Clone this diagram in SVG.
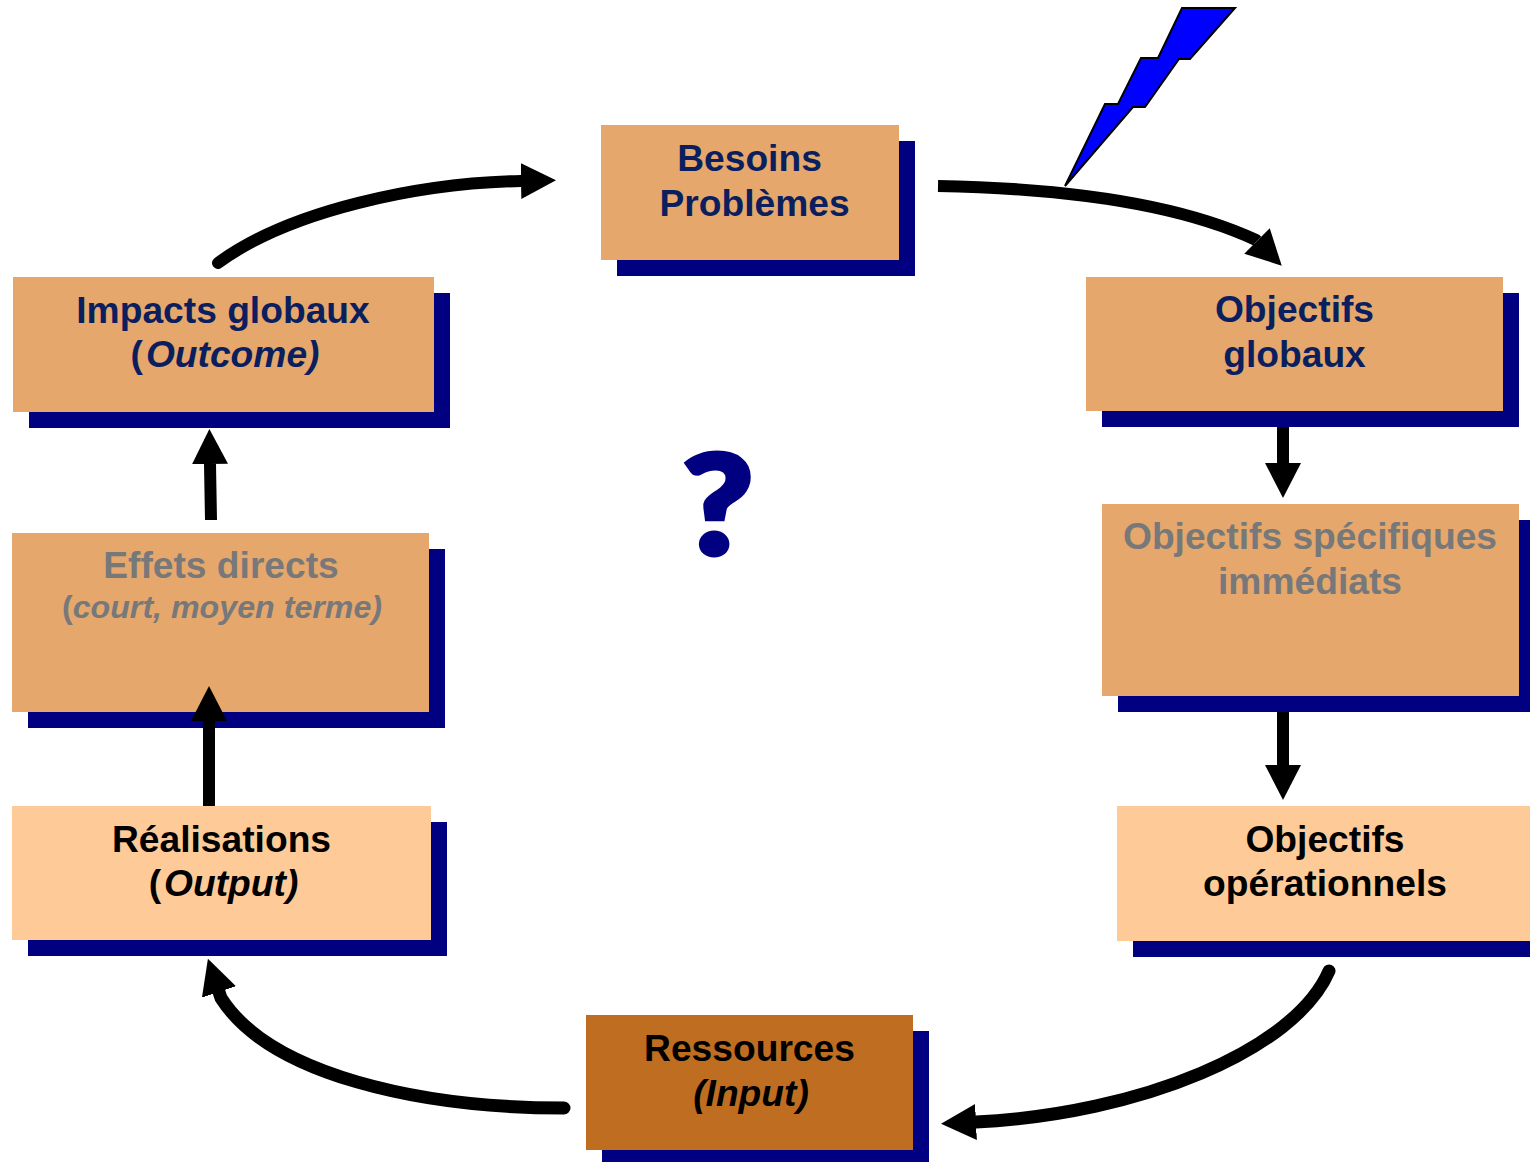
<svg xmlns="http://www.w3.org/2000/svg" width="1530" height="1162" viewBox="0 0 1530 1162">
<style>
.s{fill:#000080}
.a{fill:#e5a76b}
.l{fill:#fecb98}
.d{fill:#bf6e21}
text{font-family:"Liberation Sans",Arial,sans-serif;font-weight:700;font-size:37.2px;text-anchor:middle}
.n{fill:#0b1f5e}
.g{fill:#77787a}
.b{fill:#000}
.i{font-style:italic}
.c{fill:none;stroke:#000;stroke-width:12}
.k{stroke-width:13}
.r{stroke-linecap:round}
</style>
<defs>
<marker id="h" markerUnits="userSpaceOnUse" markerWidth="36" markerHeight="36" refX="0" refY="18" orient="auto"><path d="M0 0L35 18L0 36z" fill="#000"/></marker>
</defs>
<rect width="1530" height="1162" fill="#fff"/>
<g id="besoins"><rect class="s" x="617" y="141" width="298" height="135"/><rect class="a" x="601" y="125" width="298" height="135"/><text class="n" x="749.500" y="171">Besoins</text><text class="n" x="754.500" y="216">Problèmes</text></g>
<g id="objectifs-globaux"><rect class="s" x="1102" y="293" width="417" height="134"/><rect class="a" x="1086" y="277" width="417" height="134"/><text class="n" x="1294.500" y="322">Objectifs</text><text class="n" x="1294.500" y="367">globaux</text></g>
<g id="objectifs-specifiques"><rect class="s" x="1118" y="520" width="412" height="192"/><rect class="a" x="1102" y="504" width="417" height="192"/><text class="g" x="1310" y="549">Objectifs spécifiques</text><text class="g" x="1310" y="594">immédiats</text></g>
<g id="objectifs-operationnels"><rect class="s" x="1133" y="822" width="397" height="135"/><rect class="l" x="1117" y="806" width="413" height="135"/><text class="b" x="1325" y="852">Objectifs</text><text class="b" x="1325" y="896">opérationnels</text></g>
<g id="ressources"><rect class="s" x="602" y="1031" width="327" height="131"/><rect class="d" x="586" y="1015" width="327" height="135"/><text class="b" x="749.500" y="1061">Ressources</text><text class="b i" x="751" y="1106">(Input)</text></g>
<g id="realisations"><rect class="s" x="28" y="822" width="419" height="134"/><rect class="l" x="12" y="806" width="419" height="134"/><text class="b" x="221.500" y="852">Réalisations</text><text class="b" x="223.500" y="896">(<tspan class="i" dx="3">Output)</tspan></text></g>
<g id="effets-directs"><rect class="s" x="28" y="549" width="417" height="179"/><rect class="a" x="12" y="533" width="417" height="179"/><text class="g" x="221" y="578">Effets directs</text><text class="g" x="222" y="618" style="font-size:32.200px">(<tspan class="i">court, moyen terme)</tspan></text></g>
<g id="impacts"><rect class="s" x="29" y="293" width="421" height="135"/><rect class="a" x="13" y="277" width="421" height="135"/><text class="n" x="223" y="323">Impacts globaux</text><text class="n" x="225" y="367">(<tspan class="i" dx="3">Outcome)</tspan></text></g>
<g id="question"><text transform="translate(718 554) scale(1.12 1)" style="font-family:Lato,'Liberation Sans',sans-serif;font-weight:900;font-size:137px;fill:#000080;stroke:#000080;stroke-width:5">?</text></g>
<g id="lightning"><path d="M1065 186L1105 104H1118L1141 58H1158L1182 8H1235L1190 59H1179L1145 107H1133z" fill="#0000ff" stroke="#000" stroke-width="2"/></g>
<g id="connectors">
<path class="c r" d="M218 263C290 210 420 183 521 181" marker-end="url(#h)"/>
<path class="c" d="M938 186C1050 188 1170 200 1256 240L1257 241" marker-end="url(#h)"/>
<path class="c" d="M1283 427V463" marker-end="url(#h)"/>
<path class="c" d="M1283 712V765" marker-end="url(#h)"/>
<path class="c k r" d="M1329 971C1295 1050 1140 1114 976 1122" marker-end="url(#h)"/>
<path class="c k r" d="M564 1108C420 1108 270 1075 221 998L219 992" marker-end="url(#h)"/>
<path class="c" d="M211 520L210 464" marker-end="url(#h)"/>
<path class="c" d="M209 806V721" marker-end="url(#h)"/>
</g>
</svg>
